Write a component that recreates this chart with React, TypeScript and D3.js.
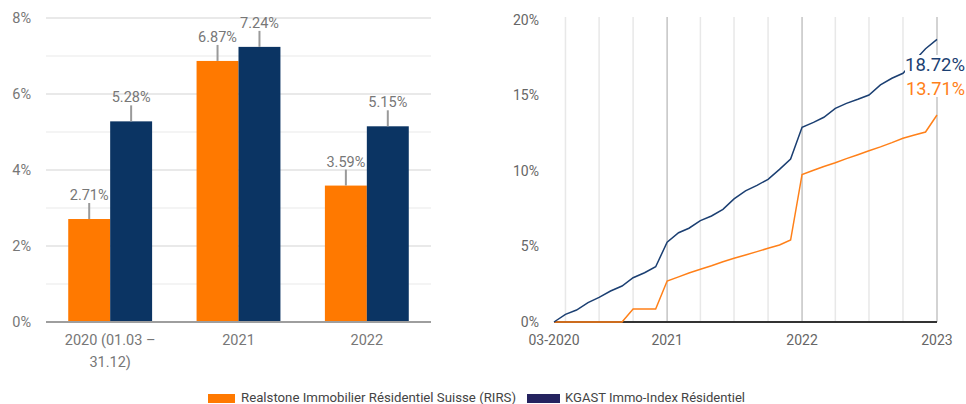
import React from 'react';
import * as d3 from 'd3';

// annual performance (left chart)
const categoryLines = [["2020 (01.03 –", "31.12)"], ["2021"], ["2022"]];
const categories = categoryLines.map(l => l.join(" "));
const rirsAnnual = [2.71, 6.87, 3.59];
const kgastAnnual = [5.28, 7.24, 5.15];
const barTicks = [0, 2, 4, 6, 8];

// cumulative performance, month ends (right chart), from 03-2020 to 01-2023
const cumMonths = d3.timeMonth.range(new Date(2020, 2, 1), new Date(2023, 0, 2));
const kgastCum = [
    0, 0.51, 0.79, 1.28, 1.63, 2.05, 2.38, 2.93, 3.26, 3.66,
    5.28, 5.91, 6.21, 6.71, 7.02, 7.46, 8.15, 8.68, 9.05, 9.45, 10.11, 10.79,
    12.9, 13.22, 13.56, 14.15, 14.48, 14.75, 15.03, 15.7, 16.14, 16.47, 17.3, 18.1,
    18.72,
];
const rirsCum = [
    0, 0, 0, 0, 0, 0, 0, 0.86, 0.86, 0.86,
    2.71, 2.99, 3.24, 3.49, 3.72, 3.99, 4.22, 4.44, 4.66, 4.88, 5.1, 5.43,
    9.77, 10.05, 10.3, 10.55, 10.82, 11.08, 11.34, 11.6, 11.88, 12.17, 12.38, 12.58,
    13.71,
];
const lineTicks = [0, 5, 10, 15, 20];
const xTickLabels = ["03-2020", "2021", "2022", "2023"];

const seriesNames = ["Realstone Immobilier Résidentiel Suisse (RIRS)", "KGAST Immo-Index Résidentiel"];

const ORANGE = "#ff7900";
const NAVY = "#0b3463";
const LINE_ORANGE = "#ff8019";
const LINE_NAVY = "#1b3f72";
const FONT = "Roboto, 'Noto Sans', sans-serif";

const BarChart: React.FC = () => {
    const x0 = d3.scaleBand().domain(categories).range([46, 431]);
    const x1 = d3.scaleBand().domain(["rirs", "kgast"]).range([0, x0.bandwidth()])
        .paddingInner(0).paddingOuter(0.53);
    const y = d3.scaleLinear().domain([0, 8]).range([322, 18]);
    const grid = d3.range(1, 9);

    const bars = categories.flatMap((c, i) => [
        { c, key: "rirs", v: rirsAnnual[i], color: ORANGE },
        { c, key: "kgast", v: kgastAnnual[i], color: NAVY },
    ]);

    return (
        <g fontFamily={FONT}>
            {grid.map(t => (
                <line key={t} x1={46} x2={431} y1={y(t)} y2={y(t)}
                    stroke={t % 2 === 0 ? "#e2e2e2" : "#f1f1f1"} strokeWidth={1.5} />
            ))}
            {barTicks.map(t => (
                <text key={t} x={31} y={y(t)} dy="0.35em" textAnchor="end" fontSize={14.5} fill="#777">{t}%</text>
            ))}
            {bars.map(b => {
                const bx = (x0(b.c) as number) + (x1(b.key) as number);
                const cx = bx + x1.bandwidth() / 2;
                const top = y(b.v);
                return (
                    <g key={b.c + b.key}>
                        <rect x={bx} y={top} width={x1.bandwidth()} height={y(0) - top} fill={b.color} />
                        <line x1={cx} x2={cx} y1={top} y2={top - 16} stroke="#9a9a9a" strokeWidth={2} />
                        <text x={cx} y={top - 19} textAnchor="middle" fontSize={14.5} fill="#777">
                            {b.v.toFixed(2)}%
                        </text>
                    </g>
                );
            })}
            <line x1={46} x2={431} y1={y(0)} y2={y(0)} stroke="#9e9e9e" strokeWidth={2} />
            {categories.map((c, i) => (
                <text key={c} x={(x0(c) as number) + x0.bandwidth() / 2} y={345} textAnchor="middle" fontSize={14.5} fill="#777">
                    {categoryLines[i].map((l, j) => (
                        <tspan key={j} x={(x0(c) as number) + x0.bandwidth() / 2} dy={j === 0 ? 0 : 22}>{l}</tspan>
                    ))}
                </text>
            ))}
        </g>
    );
};

const LineChart: React.FC = () => {
    const x = d3.scaleTime().domain([new Date(2020, 2, 1), new Date(2023, 0, 1)]).range([554, 937]);
    const y = d3.scaleLinear().domain([0, 20]).range([322, 20]);
    const gridDates = d3.timeMonth.range(new Date(2020, 3, 1), new Date(2023, 0, 2), 3);
    const tickDates = [new Date(2020, 2, 1), new Date(2021, 0, 1), new Date(2022, 0, 1), new Date(2023, 0, 1)];

    const line = d3.line<number>()
        .x((d, i) => x(cumMonths[i]))
        .y(d => y(d));

    const last = cumMonths.length - 1;

    return (
        <g fontFamily={FONT}>
            {gridDates.map(d => (
                <line key={+d} x1={x(d)} x2={x(d)} y1={17} y2={322}
                    stroke={d.getMonth() === 0 ? "#c4c4c4" : "#e8e8e8"} strokeWidth={1.5} />
            ))}
            {lineTicks.map(t => (
                <text key={t} x={539} y={y(t)} dy="0.35em" textAnchor="end" fontSize={14} fill="#666">{t}%</text>
            ))}
            <line x1={554} x2={937} y1={y(0)} y2={y(0)} stroke="#333" strokeWidth={2} />
            <path d={line(rirsCum) || ""} fill="none" stroke={LINE_ORANGE} strokeWidth={1.5} />
            <path d={line(kgastCum) || ""} fill="none" stroke={LINE_NAVY} strokeWidth={1.5} />
            {tickDates.map((d, i) => (
                <text key={i} x={x(d)} y={345} textAnchor="middle" fontSize={14} fill="#666">{xTickLabels[i]}</text>
            ))}
            <rect x={905} y={55} width={61} height={42} fill="white" />
            <text x={905} y={71} fontSize={18.5} fill={LINE_NAVY} textLength={60} lengthAdjust="spacingAndGlyphs">
                {kgastCum[last].toFixed(2)}%
            </text>
            <text x={906} y={94.5} fontSize={18.5} fill={LINE_ORANGE} textLength={59} lengthAdjust="spacingAndGlyphs">
                {rirsCum[last].toFixed(2)}%
            </text>
        </g>
    );
};

const Legend: React.FC = () => (
    <g fontFamily={FONT} fontSize={13} fill="#444">
        <rect x={208} y={394} width={27} height={9} fill={ORANGE} />
        <text x={241} y={402} textLength={275} lengthAdjust="spacingAndGlyphs">{seriesNames[0]}</text>
        <rect x={527} y={394} width={33} height={9} fill="#25235f" />
        <text x={565} y={402} textLength={180} lengthAdjust="spacingAndGlyphs">{seriesNames[1]}</text>
    </g>
);

export default function App() {
    return (
        <div style={{ position: "absolute", left: 0, top: 0 }}>
            <svg width={966} height={404} style={{ display: "block", background: "white" }}>
                <BarChart />
                <LineChart />
                <Legend />
            </svg>
        </div>
    );
}
